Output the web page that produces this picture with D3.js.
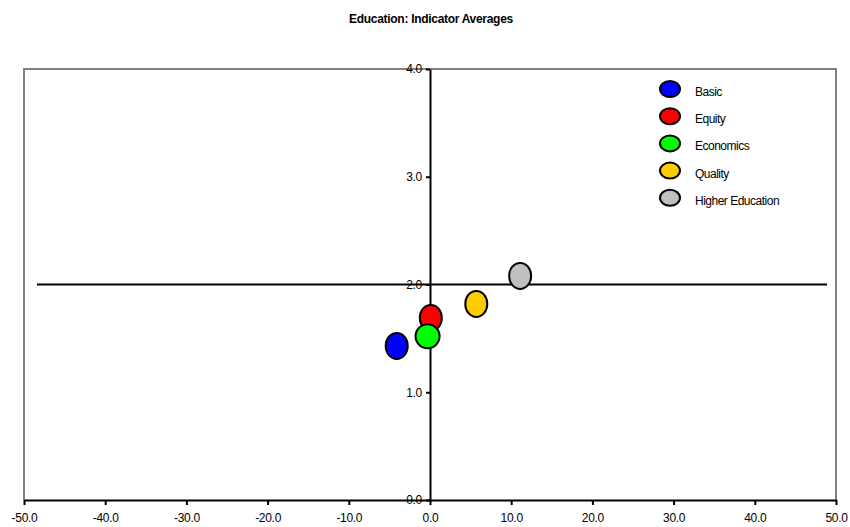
<!DOCTYPE html>
<html><head><meta charset="utf-8">
<script src="https://cdn.jsdelivr.net/npm/d3@7"></script>
<style>body{margin:0;background:#fff}svg{display:block;font-family:"Liberation Sans",Arial,sans-serif}</style>
</head><body><svg id="c" width="850" height="527"></svg>
<script>
const categories = ["Basic","Equity","Economics","Quality","Higher Education"];
const xValues = [-4.1, 0.1, -0.3, 5.7, 11.1];
const yValues = [1.43, 1.69, 1.52, 1.82, 2.08];
const colors = ["#0000ff","#ff0000","#00ff00","#ffcc00","#c0c0c0"];
const xTicks = [-50,-40,-30,-20,-10,0,10,20,30,40,50];
const yTicks = [0,1,2,3,4];
const refLineX = [-48.4, 48.9];
const refLineY = 2;

const fmt = d => d.toFixed(1);
const svg = d3.select("#c");
const x = d3.scaleLinear().domain([-50,50]).range([24,836]);
const y = d3.scaleLinear().domain([0,4]).range([500,69]);

svg.append("text").attr("x",431).attr("y",23).attr("text-anchor","middle")
  .attr("font-size",12).attr("font-weight","bold").attr("letter-spacing","-0.3")
  .text("Education: Indicator Averages");

// plot border (gray)
svg.append("path").attr("d",`M${x(-50)},${y(0)}V${y(4)}H${x(50)}V${y(0)}`)
  .attr("fill","none").attr("stroke","#808080").attr("stroke-width",2);

// x axis
const xa = svg.append("g").attr("transform",`translate(0,${y(0)})`)
  .call(d3.axisBottom(x).tickValues(xTicks).tickFormat(fmt).tickSize(5).tickSizeOuter(0));
xa.select(".domain").attr("stroke","#000").attr("stroke-width",2);
xa.selectAll(".tick line").attr("stroke","#000").attr("stroke-width",2);
xa.selectAll("text").attr("font-size",12).attr("font-family","Liberation Sans, Arial").attr("fill","#000").attr("dy","1.2em").attr("letter-spacing","-0.3");

// y axis at x=0
const ya = svg.append("g").attr("transform",`translate(${x(0)},0)`)
  .call(d3.axisLeft(y).tickValues(yTicks).tickFormat(fmt).tickSize(4).tickSizeOuter(0));
ya.select(".domain").attr("stroke","#000").attr("stroke-width",2);
ya.selectAll(".tick line").attr("stroke","#000").attr("stroke-width",2);
ya.selectAll("text").attr("font-size",12).attr("font-family","Liberation Sans, Arial").attr("fill","#000").attr("x",-8).attr("letter-spacing","-0.3");

// horizontal reference line
svg.append("line").attr("x1",x(refLineX[0])).attr("x2",x(refLineX[1]))
  .attr("y1",y(refLineY)).attr("y2",y(refLineY)).attr("stroke","#000").attr("stroke-width",2);

// points
const pts = categories.map((c,i)=>({c, x:xValues[i], y:yValues[i], col:colors[i]}));
svg.append("g").selectAll("ellipse").data(pts).join("ellipse")
  .attr("cx",d=>x(d.x)).attr("cy",d=>y(d.y))
  .attr("rx",d=>d.c==="Economics"?12:11).attr("ry",d=>d.c==="Economics"?12:13)
  .attr("fill",d=>d.col).attr("stroke","#000").attr("stroke-width",2);

// legend
const lg = svg.append("g").selectAll("g").data(pts).join("g")
  .attr("transform",(d,i)=>`translate(670,${89+i*27.2})`);
lg.append("ellipse").attr("rx",10).attr("ry",8).attr("fill",d=>d.col).attr("stroke","#000").attr("stroke-width",2);
lg.append("text").attr("x",25).attr("y",7).attr("font-size",12).attr("letter-spacing","-0.5").text(d=>d.c);
</script></body></html>
